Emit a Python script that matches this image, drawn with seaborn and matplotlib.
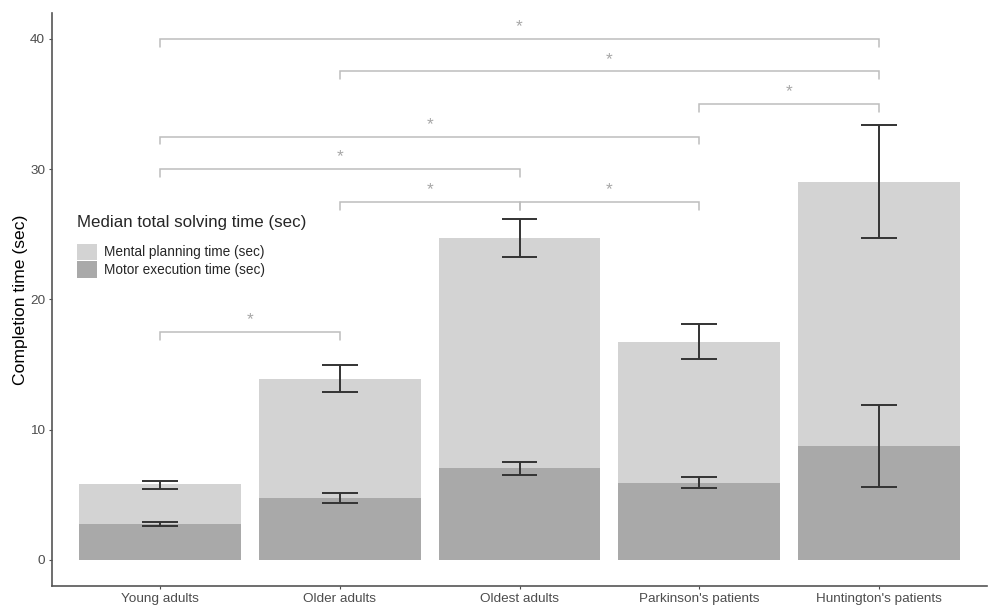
import matplotlib
matplotlib.use("Agg")
import numpy as np
import pandas as pd
import matplotlib.pyplot as plt
import seaborn as sns
from matplotlib.patches import Patch

groups = ["Young adults", "Older adults", "Oldest adults",
          "Parkinson's patients", "Huntington's patients"]

# median total solving time (top of light bar) and its error range
total_time = [5.8, 13.9, 24.7, 16.7, 29.05]
total_low = [5.45, 12.9, 23.25, 15.4, 24.75]
total_high = [6.1, 14.97, 26.15, 18.1, 33.4]

# motor execution time (dark bar) and its error range
motor_time = [2.75, 4.75, 7.05, 5.9, 8.75]
motor_low = [2.6, 4.4, 6.56, 5.5, 5.6]
motor_high = [2.95, 5.12, 7.5, 6.35, 11.9]

# significance brackets: first group, second group, height
sig_left = [0, 1, 3, 0, 0, 1, 2, 0]
sig_right = [4, 4, 4, 3, 2, 2, 3, 1]
sig_height = [40, 37.5, 35, 32.5, 30, 27.5, 27.5, 17.5]

light = "#d3d3d3"
dark = "#a9a9a9"
bracket_col = "#bdbdbd"
star_col = "#a6a6a6"
err_col = "#333333"

sns.set_theme(style="ticks")
plt.rcParams["font.family"] = ["Liberation Sans", "DejaVu Sans"]

df = pd.DataFrame({"group": groups, "total": total_time, "motor": motor_time})

fig = plt.figure(figsize=(10, 6.13), dpi=100)
ax = fig.add_axes([0.052, 0.044, 0.935, 0.935])

sns.barplot(data=df, x="group", y="total", order=groups, color=light,
            saturation=1, width=0.9, errorbar=None, ax=ax)
sns.barplot(data=df, x="group", y="motor", order=groups, color=dark,
            saturation=1, width=0.9, errorbar=None, ax=ax)
for p in ax.patches:
    p.set_linewidth(0)

xs = np.arange(len(groups))
for lo, hi in [(total_low, total_high), (motor_low, motor_high)]:
    ax.vlines(xs, lo, hi, color=err_col, lw=1.4, zorder=5)
    ax.hlines(lo, xs - 0.1, xs + 0.1, color=err_col, lw=1.4, zorder=5)
    ax.hlines(hi, xs - 0.1, xs + 0.1, color=err_col, lw=1.4, zorder=5)

tick = 0.6
for a, b, h in zip(sig_left, sig_right, sig_height):
    ax.plot([a, a, b, b], [h - tick, h, h, h - tick], color=bracket_col,
            lw=1.1, solid_joinstyle="miter", zorder=4)
    ax.text((a + b) / 2, h + 0.6, "*", color=star_col, fontsize=12.5,
            ha="center", va="baseline")

ax.set_xlim(-0.6, 4.6)
ax.set_ylim(-2, 42)
ax.set_yticks([0, 10, 20, 30, 40])
ax.set_xlabel("")
ax.set_ylabel("Completion time (sec)", fontsize=12.6, color="black", labelpad=1.5)
ax.tick_params(axis="both", labelsize=9.7, labelcolor="#4d4d4d",
               color="#4d4d4d", length=2.5, width=0.8, pad=2.5)
sns.despine(ax=ax)
for s in ["left", "bottom"]:
    ax.spines[s].set_color("#555555")
    ax.spines[s].set_linewidth(1.2)

handles = [Patch(facecolor=light, edgecolor="none"),
           Patch(facecolor=dark, edgecolor="none")]
leg = ax.legend(handles, ["Mental planning time (sec)", "Motor execution time (sec)"],
                title="Median total solving time (sec)", title_fontsize=12.2,
                fontsize=9.8, frameon=False, loc="upper left",
                bbox_to_anchor=(0.027, 0.648), handlelength=1.45,
                handleheight=1.5, labelspacing=0.1, handletextpad=0.55,
                borderaxespad=0, borderpad=0)
leg._legend_box.align = "left"
leg._legend_box.sep = 10

fig.savefig("out.png", dpi=100)
